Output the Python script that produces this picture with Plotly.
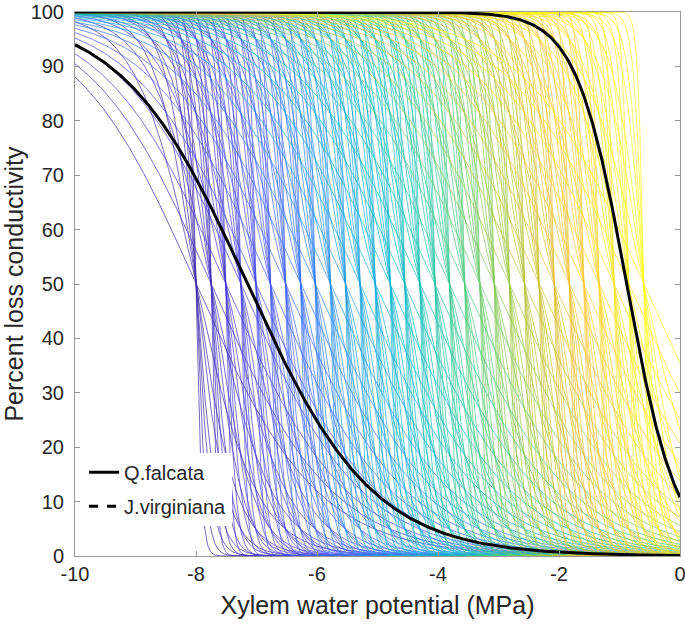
import numpy as np
import plotly.graph_objects as go

# ---- data ----
p50_values = [-8.0, -7.75, -7.51, -7.26, -7.01, -6.77, -6.52, -6.27, -6.03, -5.78,
              -5.53, -5.29, -5.04, -4.79, -4.55, -4.3, -4.05, -3.81, -3.56, -3.31,
              -3.07, -2.82, -2.57, -2.33, -2.08, -1.83, -1.59, -1.34, -1.09, -0.85, -0.6]
slope_values = [1.0, 2.0, 3.0, 4.0, 6.0, 8.0, 12.0, 20.0]   # logistic steepness (1/MPa)
species_names = ["Q.falcata", "J.virginiana"]
species_p50 = [-0.88, -7.15]
species_slope = [2.4, 0.965]
x_ticks = [-10, -8, -6, -4, -2, 0]
x_tick_text = ["-10", "-8", "-6", "-4", "-2", "0"]
y_ticks = [0, 10, 20, 30, 40, 50, 60, 70, 80, 90, 100]

psi = np.linspace(-10, 0, 801)

def plc(p50, a):
    return 100.0 / (1.0 + np.exp(a * (psi - p50)))

# parula colormap anchors (approx.)
parula = np.array([
    [0.2422, 0.1504, 0.6603],
    [0.2691, 0.2060, 0.8371],
    [0.2810, 0.2850, 0.9260],
    [0.2636, 0.3713, 0.9925],
    [0.1953, 0.4560, 0.9910],
    [0.1540, 0.5902, 0.9218],
    [0.1160, 0.6544, 0.8750],
    [0.0498, 0.7074, 0.8043],
    [0.0882, 0.7467, 0.7116],
    [0.2180, 0.7848, 0.5919],
    [0.4020, 0.8010, 0.4400],
    [0.5897, 0.7896, 0.3066],
    [0.7650, 0.7726, 0.2228],
    [0.9180, 0.7500, 0.2300],
    [0.9900, 0.7900, 0.2100],
    [0.9600, 0.9000, 0.1500],
    [0.9769, 0.9839, 0.0805],
])
pos = np.linspace(0, 1, len(parula))

def cmap(t):
    c = [np.interp(t, pos, parula[:, k]) for k in range(3)]
    return "rgb(%d,%d,%d)" % tuple(int(round(v * 255)) for v in c)

fig = go.Figure()
n = len(p50_values)
for i, p in enumerate(p50_values):
    xs, ys = [], []
    for a in slope_values:
        xs += list(psi) + [None]
        ys += list(plc(p, a)) + [None]
    fig.add_trace(go.Scatter(x=xs, y=ys, mode="lines", showlegend=False,
                             line=dict(color=cmap(i / (n - 1)), width=0.7),
                             hoverinfo="skip"))

for name, p, a in zip(species_names, species_p50, species_slope):
    fig.add_trace(go.Scatter(x=psi, y=plc(p, a), mode="lines", showlegend=False,
                             line=dict(color="black", width=3), name=name))

# legend entries
fig.add_trace(go.Scatter(x=[None], y=[None], mode="lines", name=species_names[0],
                         legendgroup="g1", line=dict(color="black", width=3)))
fig.add_trace(go.Scatter(x=[None], y=[None], mode="lines", name=species_names[1],
                         legendgroup="g2", line=dict(color="black", width=3, dash="dash")))

font_family = "Liberation Sans, Arial, Helvetica, sans-serif"
fig.update_layout(
    width=685, height=631,
    margin=dict(l=75, r=5, t=12, b=75),
    plot_bgcolor="white", paper_bgcolor="white",
    font=dict(family=font_family, color="#262626"),
    showlegend=True,
    legend=dict(x=0.015, y=0.19, xanchor="left", yanchor="top",
                bgcolor="white", borderwidth=0, font=dict(size=20),
                itemwidth=30, tracegroupgap=5),
    xaxis=dict(range=[-10, 0], tickvals=x_ticks, ticktext=x_tick_text,
               ticks="inside", ticklen=5, automargin=False,
               ticklabeloverflow="allow",
               tickcolor="#999", showline=True, linecolor="#999", linewidth=1,
               mirror="ticks", showgrid=False, zeroline=False,
               tickfont=dict(size=20),
               title=dict(text="Xylem water potential (MPa)", font=dict(size=25), standoff=12)),
    yaxis=dict(range=[0, 100], tickvals=y_ticks, ticks="inside", ticklen=5,
               automargin=False, ticklabeloverflow="allow", ticklabelstandoff=6,
               tickcolor="#999", showline=True, linecolor="#999", linewidth=1,
               mirror="ticks", showgrid=False, zeroline=False,
               tickfont=dict(size=20),
               title=dict(text="Percent loss conductivity", font=dict(size=25), standoff=8)),
)

fig.write_html("out.html", config={"displayModeBar": False},
               post_script="document.body.style.margin='0';document.body.style.overflow='hidden';")
